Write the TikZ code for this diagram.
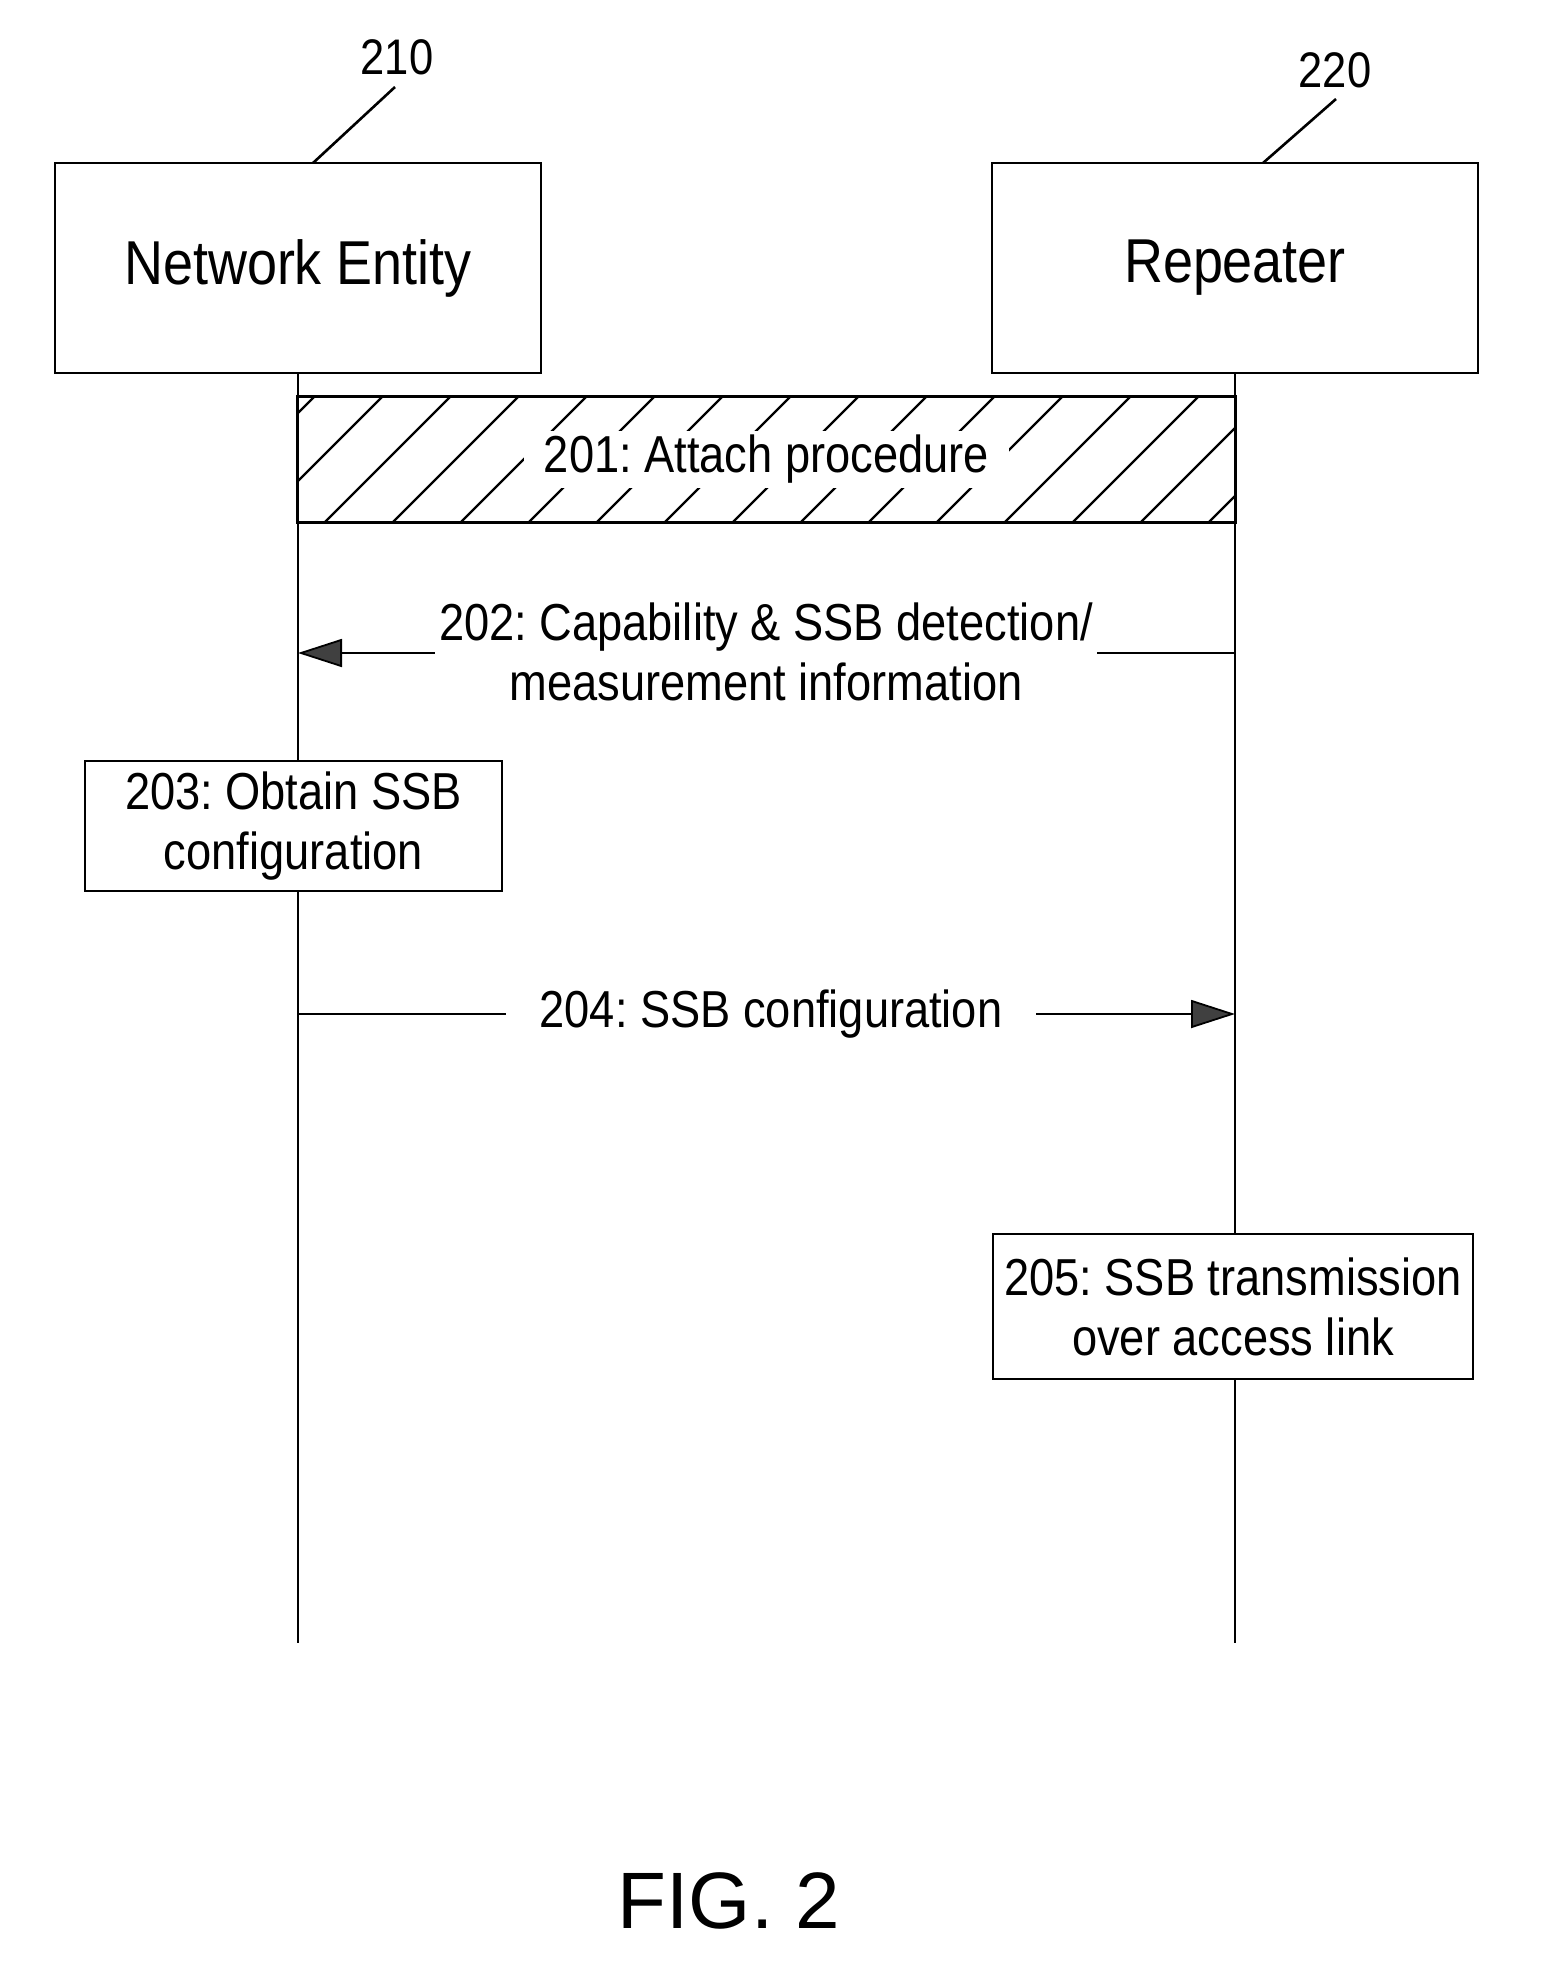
\documentclass[tikz,border=0pt]{standalone}
\usepackage{fontspec}
\setmainfont{Liberation Sans}[FakeStretch=0.87]
\newfontfamily\figfont{Liberation Sans}
\usetikzlibrary{arrows.meta}
\frenchspacing
\newcommand{\boxfont}{\fontsize{31pt}{36pt}\selectfont}
\newcommand{\stepfont}{\fontsize{26pt}{30pt}\selectfont}
\newcommand{\numfont}{\fontsize{25pt}{30pt}\selectfont}
\tikzset{
  entity/.style={draw, line width=1.1pt, fill=white, minimum width=243pt, minimum height=105pt, font=\boxfont},
  stepbox/.style={draw, line width=1pt, fill=white, align=center, font=\stepfont},
  steplabel/.style={fill=white, align=center, font=\stepfont},
  reflabel/.style={inner sep=0pt, font=\numfont},
  leader/.style={line width=1.3pt},
  lifeline/.style={line width=0.8pt},
  hatch/.style={line width=1.2pt},
  msg/.style={line width=0.9pt, -{Triangle[length=22pt,width=14pt,fill=black!75]}}
}

\begin{document}
\begin{tikzpicture}[x=0.5pt,y=-0.5pt]
			\useasboundingbox (0,0) rectangle (1562,1963);
			%%%%% START %%%%%
			
			\node[entity] (ne) at (298,268) {Network Entity};
			\node[entity] (rep) at (1235,268) {Repeater};
			
			\node[reflabel] (l210) at (397,57) {210};
			\node[reflabel] (l220) at (1335,70) {220};
			\coordinate (t210) at (395,87);
			\coordinate (b210) at (313,163);
			\coordinate (t220) at (1336,99);
			\coordinate (b220) at (1263,163);
			\draw[leader] (t210) -- (b210);
			\draw[leader] (t220) -- (b220);
			
			\coordinate (neEnd) at (298,1643);
			\coordinate (repEnd) at (1235,1643);
			\draw[lifeline] (ne.south) -- (neEnd);
			\draw[lifeline] (rep.south) -- (repEnd);
			
			% 201
			\node[minimum width=468.5pt, minimum height=62.5pt, inner sep=0pt] (att) at (766.5,459.5) {};
			\begin{scope}
				\clip (att.south west) rectangle (att.north east);
				\foreach \x in {189,257,...,1240}
					\draw[hatch] (\x,522) -- ++(125,-125);
			\end{scope}
			\draw[line width=1.2pt] (att.south west) rectangle (att.north east);
			\node[steplabel, inner xsep=10pt, inner ysep=2pt] (t201) at (att) {201: Attach procedure};
			
			% 202
			\coordinate (m2r) at (1235,653);
			\coordinate (m2l) at (298,653);
			\draw[msg] (m2r) -- (m2l);
			\node[steplabel, inner xsep=2pt] (t202) at (766,652) {202: Capability \& SSB detection/\\measurement information};
			
			% 203
			\node[stepbox, minimum width=208.5pt, minimum height=65pt] (s203) at (293.5,826) {203: Obtain SSB\\configuration};
			
			% 204
			\coordinate (m4l) at (298,1014);
			\coordinate (m4r) at (1235,1014);
			\draw[msg] (m4l) -- (m4r);
			\node[steplabel, inner xsep=17pt] (t204) at (771,1014) {204: SSB configuration};
			
			% 205
			\node[stepbox, minimum width=240pt, minimum height=72.5pt] (s205) at (1233,1306.5) {205: SSB transmission\\over access link};
			
			\node[font=\figfont\fontsize{40pt}{46pt}\selectfont] (fig) at (729,1901) {FIG. 2};
			
			%%%%% END %%%%%
		\end{tikzpicture}
\end{document}
